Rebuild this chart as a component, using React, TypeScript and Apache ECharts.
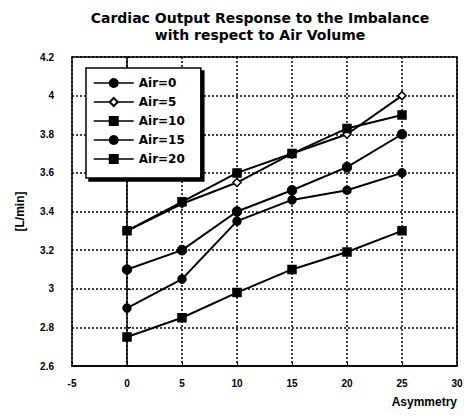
import React, { useEffect, useRef } from "react";
import * as echarts from "echarts";

const asymmetry = [0, 5, 10, 15, 20, 25];
const air0 = [2.9, 3.05, 3.35, 3.46, 3.51, 3.6];
const air5 = [3.3, 3.44, 3.55, 3.7, 3.8, 4.0];
const air10 = [3.3, 3.45, 3.6, 3.7, 3.83, 3.9];
const air15 = [3.1, 3.2, 3.4, 3.51, 3.63, 3.8];
const air20 = [2.75, 2.85, 2.98, 3.1, 3.19, 3.3];
const seriesNames = ["Air=0", "Air=5", "Air=10", "Air=15", "Air=20"];

const FONT = "Liberation Sans";
const WIDE = "DejaVu Sans";

export default function App() {
  const ref = useRef<HTMLDivElement>(null);
  useEffect(() => {
    if (!ref.current) return;
    const chart = echarts.init(ref.current, undefined, { renderer: "svg" });
    const mk = (name: string, vals: number[], symbol: string, filled: boolean, size: number) => ({
      name,
      type: "line",
      data: asymmetry.map((x, i) => [x, vals[i]]),
      symbol,
      symbolSize: size,
      showAllSymbol: true,
      lineStyle: { color: "#000", width: 2 },
      itemStyle: { color: filled ? "#000" : "#fff", borderColor: "#000", borderWidth: 1.5 },
      z: 3,
    });
    chart.setOption({
      animation: false,
      backgroundColor: "#fff",
      title: {
        text: "Cardiac Output Response to the Imbalance\nwith respect to Air Volume",
        left: 255,
        textAlign: "center",
        top: 4,
        textStyle: { fontFamily: WIDE, fontWeight: "bold", fontSize: 14, color: "#000", lineHeight: 17 },
      },
      grid: { left: 72, right: 10, top: 57, bottom: 51, show: true, borderColor: "#000", borderWidth: 1.5, backgroundColor: "transparent" },
      legend: {
        orient: "vertical",
        left: 86,
        top: 68,
        padding: [9, 16, 13, 7],
        itemGap: 7,
        itemWidth: 40,
        itemHeight: 10,
        backgroundColor: "#fff",
        borderColor: "#000",
        borderWidth: 1.5,
        shadowColor: "#000",
        shadowBlur: 0,
        shadowOffsetX: 3,
        shadowOffsetY: 3,
        data: seriesNames.map((n) => ({ name: n, lineStyle: { width: 1.5 } })),
        textStyle: { fontFamily: WIDE, fontWeight: "bold", fontSize: 12, color: "#000" },
      },
      xAxis: {
        type: "value",
        min: -5,
        max: 30,
        interval: 5,
        name: "Asymmetry",
        nameLocation: "end",
        nameGap: 0,
        nameTextStyle: { fontFamily: FONT, fontWeight: "bold", fontSize: 12, color: "#000", align: "right", verticalAlign: "top", padding: [30, 0, 0, 0] },
        axisLine: { show: true, lineStyle: { color: "#000", width: 1.5 } },
        axisTick: { show: true, inside: true, length: 4, lineStyle: { color: "#000" } },
        axisLabel: { fontFamily: FONT, fontWeight: "bold", fontSize: 10, color: "#000", margin: 12 },
        splitLine: { show: true, lineStyle: { color: "#000", type: [2, 2], width: 1.5 } },
      },
      yAxis: {
        type: "value",
        min: 2.6,
        max: 4.2,
        interval: 0.2,
        name: "[L/min]",
        nameLocation: "middle",
        nameGap: 46,
        nameRotate: 90,
        nameTextStyle: { fontFamily: FONT, fontWeight: "bold", fontSize: 12, color: "#000" },
        axisLine: { show: true, lineStyle: { color: "#000", width: 1.5 } },
        axisTick: { show: true, inside: true, length: 4, lineStyle: { color: "#000" } },
        axisLabel: { fontFamily: FONT, fontWeight: "bold", fontSize: 10, color: "#000", margin: 18, formatter: (v: number) => String(Math.round(v * 10) / 10) },
        splitLine: { show: true, lineStyle: { color: "#000", type: [2, 2], width: 1.5 } },
      },
      series: [
        mk("Air=0", air0, "circle", true, 8),
        mk("Air=5", air5, "diamond", false, 8),
        mk("Air=10", air10, "rect", true, 8),
        mk("Air=15", air15, "circle", true, 9),
        mk("Air=20", air20, "rect", true, 8),
      ],
    });
    return () => chart.dispose();
  }, []);
  return <div ref={ref} style={{ width: 467, height: 417, position: "absolute", left: 0, top: 0 }} />;
}
